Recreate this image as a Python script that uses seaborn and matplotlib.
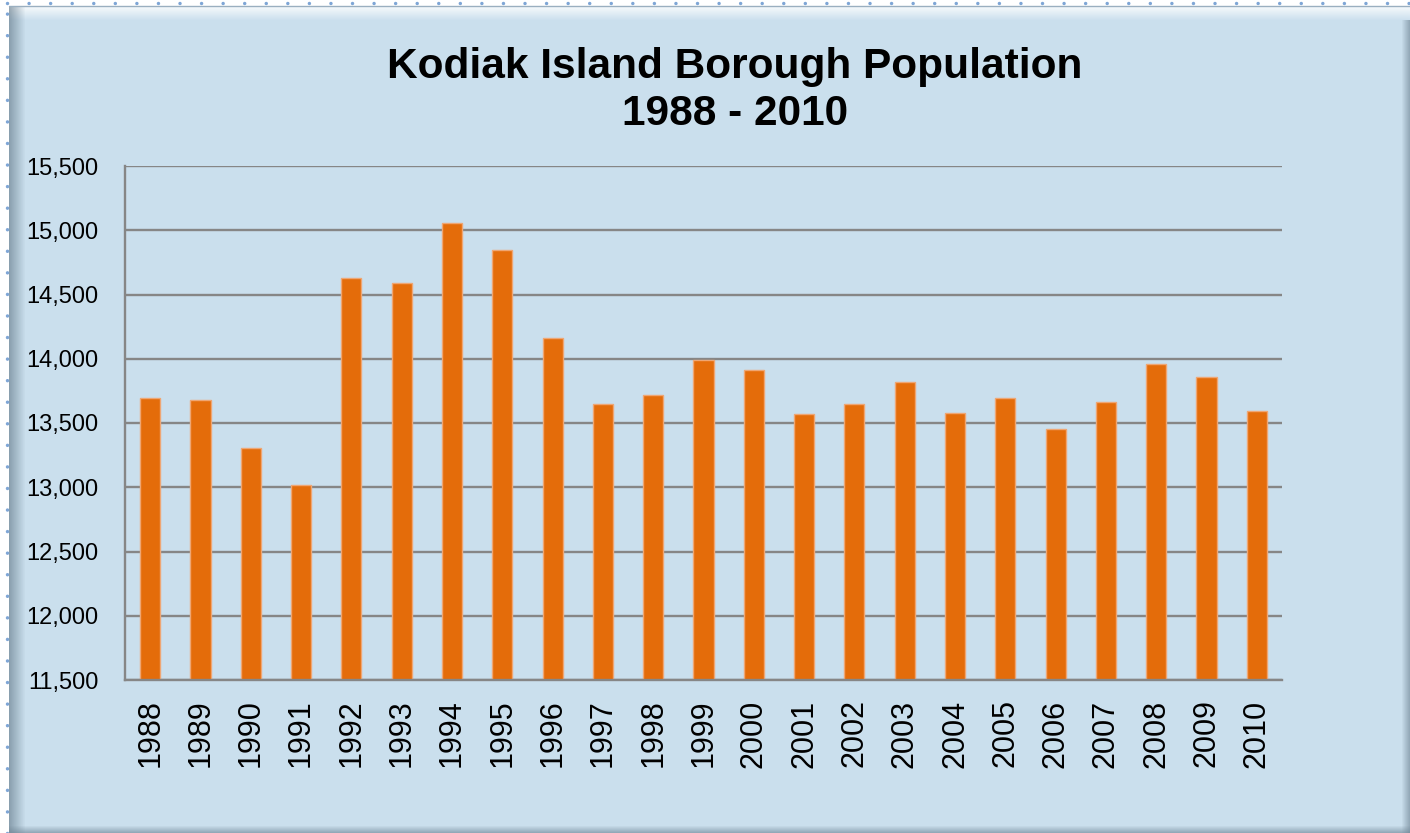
import numpy as np
import pandas as pd
import matplotlib
matplotlib.use('Agg')
import matplotlib.pyplot as plt
import seaborn as sns
from matplotlib.patches import Rectangle
from matplotlib.lines import Line2D
from matplotlib.ticker import FuncFormatter

# data
years = [str(y) for y in range(1988, 2011)]
population = [13697, 13682, 13309, 13019, 14632, 14593, 15057, 14844, 14158,
              13651, 13715, 13989, 13911, 13568, 13645, 13816, 13575, 13692,
              13456, 13666, 13956, 13861, 13591]
y_ticks = [11500, 12000, 12500, 13000, 13500, 14000, 14500, 15000, 15500]

df = pd.DataFrame({'year': years, 'population': population})

bg = '#CADFED'
grid_col = '#868686'
bar_col = '#E46C0A'

sns.set_style('white')
plt.rcParams['font.family'] = ['Liberation Sans', 'DejaVu Sans']
plt.rcParams['text.color'] = 'black'
plt.rcParams['xtick.color'] = 'black'
plt.rcParams['ytick.color'] = 'black'

W, H = 1410, 833
fig = plt.figure(figsize=(W / 100, H / 100), dpi=100)
fig.patch.set_facecolor('white')

# chart frame with a bevelled look
fig.patches.append(Rectangle((9 / W, 0), 1 - 9 / W, 1 - 6 / H, transform=fig.transFigure,
                             facecolor=bg, edgecolor='none', zorder=-10))
# top highlight
for i in range(14):
    a = 1 - i / 14
    fig.patches.append(Rectangle((9 / W, 1 - (7 + i) / H), 1 - 9 / W, 1 / H,
                                 transform=fig.transFigure, facecolor='white',
                                 alpha=0.85 * a, edgecolor='none', zorder=-9))
# left shading
for i in range(16):
    a = 1 - i / 16
    fig.patches.append(Rectangle(((9 + i) / W, 0), 1 / W, 1 - 6 / H,
                                 transform=fig.transFigure, facecolor='#5F7585',
                                 alpha=0.6 * a, edgecolor='none', zorder=-9))
# right shading
for i in range(8):
    a = 1 - i / 8
    fig.patches.append(Rectangle((1 - (1 + i) / W, 0), 1 / W, 1 - 20 / H,
                                 transform=fig.transFigure, facecolor='#6F8595',
                                 alpha=0.6 * a, edgecolor='none', zorder=-9))
# bottom shading
for i in range(7):
    a = 1 - i / 7
    fig.patches.append(Rectangle((9 / W, i / H), 1 - 9 / W, 1 / H,
                                 transform=fig.transFigure, facecolor='#6F8595',
                                 alpha=0.6 * a, edgecolor='none', zorder=-9))
# top edge line
fig.lines.append(Line2D([9 / W, 1], [1 - 6 / H, 1 - 6 / H], transform=fig.transFigure,
                        color='#9AAFC0', lw=1.0))
# dotted guide marks along the top and left
fig.lines.append(Line2D([7 / W, 1], [1 - 3 / H, 1 - 3 / H], transform=fig.transFigure,
                        color='#7FA6D6', lw=2.5, linestyle=(0, (0.01, 6.2)),
                        dash_capstyle='round'))
fig.lines.append(Line2D([7 / W, 7 / W], [0, 1 - 3 / H], transform=fig.transFigure,
                        color='#7FA6D6', lw=2.5, linestyle=(0, (0.01, 6.2)),
                        dash_capstyle='round'))

ax = fig.add_axes([125 / W, (H - 680) / H, 1157 / W, 514 / H])
ax.set_facecolor('none')
sns.barplot(data=df, x='year', y='population', color=bar_col, width=0.4,
            edgecolor='#EFA673', linewidth=1, saturation=1, ax=ax)

ax.set_ylim(11500, 15500)
ax.set_yticks(y_ticks)
ax.yaxis.set_major_formatter(FuncFormatter(lambda v, p: f'{int(v):,}'))
ax.set_xlim(-0.5, len(years) - 0.5)
ax.set_axisbelow(True)
ax.grid(axis='y', color=grid_col, lw=1.7)
ax.grid(axis='x', visible=False)
for s in ['top', 'right']:
    ax.spines[s].set_visible(False)
for s in ['left', 'bottom']:
    ax.spines[s].set_color(grid_col)
    ax.spines[s].set_linewidth(1.7)
ax.tick_params(axis='y', length=0, pad=19, labelsize=17, labelcolor='black')
ax.tick_params(axis='x', length=0, pad=14, labelsize=22, labelrotation=90, labelcolor='black')
ax.set_xlabel('')
ax.set_ylabel('')

fig.text(735 / W, 1 - 67 / H, 'Kodiak Island Borough Population', ha='center', va='center',
         fontsize=30.5, fontweight='bold', color='black')
fig.text(735 / W, 1 - 114 / H, '1988 - 2010', ha='center', va='center',
         fontsize=30.5, fontweight='bold', color='black')

fig.savefig('out.png', dpi=100, facecolor=fig.get_facecolor())
